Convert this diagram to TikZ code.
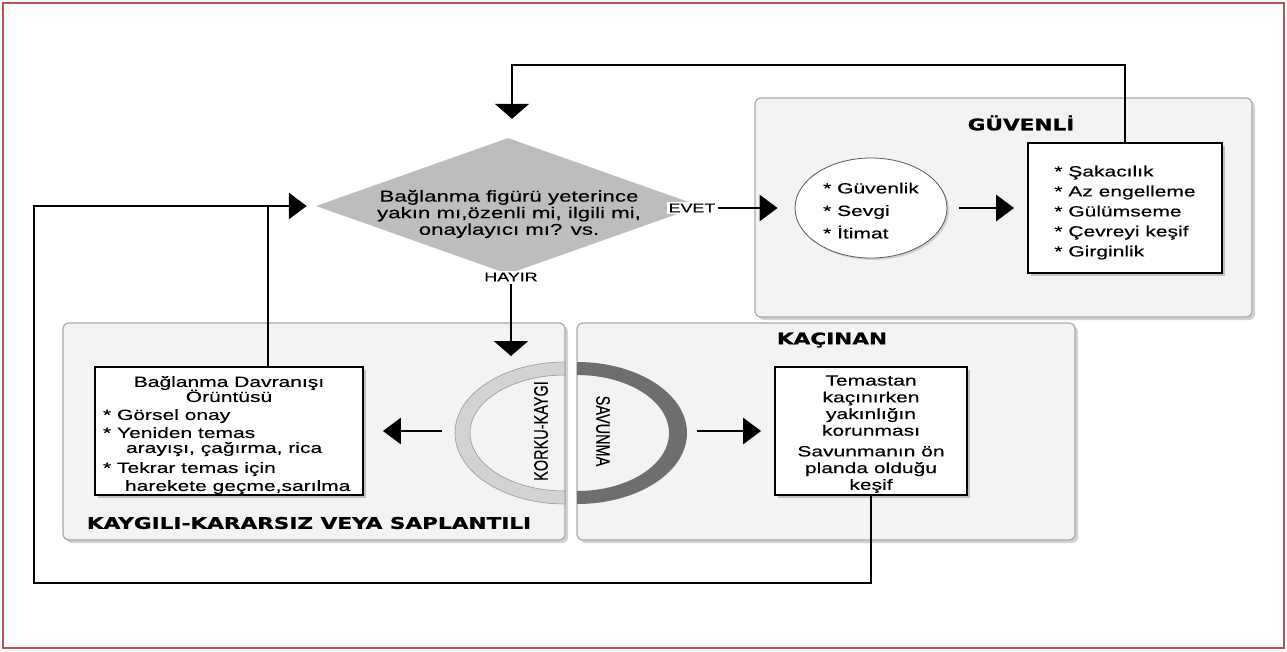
\documentclass[tikz,border=0pt]{standalone}
\usepackage{fontspec}
\setmainfont{Liberation Sans}
\newfontfamily\bodyf{Liberation Sans}[FakeStretch=1.42,FakeBold=0.35]
\newfontfamily\plainf{Liberation Sans}[FakeBold=0.3]
\newfontfamily\titf{DejaVu Sans}[FakeStretch=1.35,FakeBold=1]
\usetikzlibrary{arrows.meta,shapes.geometric,shadows}
\definecolor{framec}{HTML}{C0504D}
\definecolor{panelfill}{HTML}{F3F3F3}
\definecolor{paneldraw}{HTML}{A9A9A9}
\definecolor{diafill}{HTML}{BDBDBD}
\definecolor{korkuc}{HTML}{D3D3D3}
\definecolor{savunc}{HTML}{6E6E6E}
\lineskiplimit=-100pt
\lineskip=0pt
\begin{document}
\begin{tikzpicture}[x=1pt,y=-1pt,
  panel/.style={draw=paneldraw, line width=1.2pt, fill=panelfill, rounded corners=6pt,
    drop shadow={shadow xshift=3pt,shadow yshift=-3pt,opacity=0.35}},
  wbox/.style={draw=black, line width=1.8pt, fill=white, inner sep=6pt,
    drop shadow={shadow xshift=2.5pt,shadow yshift=-2.5pt,opacity=0.45}},
  conn/.style={line width=2.8pt, black},
  arr/.style={conn, -{Triangle[length=18pt,width=26pt]}},
  darr/.style={conn, -{Triangle[length=15pt,width=34pt]}},
  titlefont/.style={font=\titf\bfseries\fontsize{16}{18}\selectfont},
  lbl/.style={font=\bodyf\fontsize{12.6}{14}\selectfont, fill=white, inner sep=2pt},
  rotlbl/.style={font=\plainf\fontsize{14.5}{16}\selectfont, inner sep=1pt},
]
\fill[white] (0,0) rectangle (1287,651);
\useasboundingbox (0,0) rectangle (1287,651);
\draw[framec, line width=2.5pt] (3,3) rectangle (1284,648);

% panels
\node[panel, minimum width=497pt, minimum height=219pt] (pG) at (1003.5,207.5) {};
\node[panel, minimum width=502pt, minimum height=217pt] (pK) at (314,431.5) {};
\node[panel, minimum width=498pt, minimum height=217pt] (pA) at (826,431.5) {};

% arcs
\fill[korkuc, draw=gray!80, line width=0.6pt] (565,362)
  arc[start angle=90,end angle=270,x radius=110pt,y radius=71pt] -- (565,491)
  arc[start angle=270,end angle=90,x radius=95pt,y radius=58pt] -- cycle;
\fill[savunc] (577,362)
  arc[start angle=90,end angle=-90,x radius=110pt,y radius=71pt] -- (577,491)
  arc[start angle=-90,end angle=90,x radius=92pt,y radius=58pt] -- cycle;
\node[rotlbl, rotate=90] (korkuT) at (541,431) {\scalebox{1}[1.35]{KORKU-KAYGI}};
\node[rotlbl, rotate=-90] (savT) at (603,431) {\scalebox{1}[1.35]{SAVUNMA}};

% titles
\node[titlefont] (tG) at (1021,123) {GÜVENLİ};
\node[titlefont] (tA) at (832,340) {KAÇINAN};
\node[titlefont] (tK) at (309,523) {KAYGILI-KARARSIZ VEYA SAPLANTILI};

% diamond
\node[diamond, fill=diafill, minimum width=384pt, minimum height=136pt, inner sep=0pt] (dia) at (508,206) {};
\node[font=\bodyf\fontsize{15.7}{16.6}\selectfont, align=center] (dtext) at (509,214)
  {Bağlanma figürü yeterince\\yakın mı,özenli mi, ilgili mi,\\onaylayıcı mı? vs.};
\node[lbl] (evet) at (692,208) {EVET};
\node[lbl] (hayir) at (511,277) {HAYIR};

% secure
\node[ellipse, draw=gray!70!black, line width=0.8pt, fill=white, minimum width=152pt, minimum height=100pt,
  inner sep=0pt, drop shadow={shadow xshift=2pt,shadow yshift=-2pt,opacity=0.3},
  font=\bodyf\fontsize{14.8}{22.5}\selectfont, align=left] (ell) at (871,208)
  {\rule{0pt}{16pt}* Güvenlik\\* Sevgi\\* İtimat};
\node[wbox, minimum width=194pt, minimum height=130pt, font=\bodyf\fontsize{14.8}{20}\selectfont, align=left]
  (gbox) at (1125,208) {\rule{0pt}{20pt}* Şakacılık\\* Az engelleme\\* Gülümseme\\* Çevreyi keşif\\* Girginlik};

% anxious box
\node[wbox, minimum width=268pt, minimum height=128pt, inner sep=0pt, align=left,
  font=\bodyf\fontsize{14.8}{15}\selectfont] (lbox) at (229,431)
  {\rule{0pt}{19pt}\makebox[252pt][c]{Bağlanma Davranışı}\\
   \makebox[252pt][c]{Örüntüsü}\\[3pt]
   * Görsel onay\\[3pt]
   * Yeniden temas\\
   \hspace*{23pt}arayışı, çağırma, rica\\[5pt]
   * Tekrar temas için\\[3pt]
   \hspace*{22pt}harekete geçme,sarılma};

% avoidant box
\node[wbox, minimum width=192pt, minimum height=128pt, inner sep=0pt, align=center,
  font=\bodyf\fontsize{14.8}{16.7}\selectfont] (kbox) at (871,431)
  {\rule{0pt}{16.5pt}Temastan\\kaçınırken\\yakınlığın\\korunması\\[4pt]Savunmanın ön\\planda olduğu\\keşif};

% coordinates
\coordinate (korkuL) at (455,431);
\coordinate (savR) at (687,431);
\coordinate (arcTop) at (511,356);
\coordinate (topL) at (512,65);
\coordinate (botL) at (34,583);
\coordinate (jx) at (268,0);

% connectors
\draw[arr, shorten >=17pt] (evet.east) -- (ell.west);
\draw[arr, shorten <=12pt, shorten >=13pt] (ell.east) -- (gbox.west);
\draw[darr, shorten >=19pt] (gbox.north) |- (topL) -- (topL |- dia.north);
\draw[darr] (hayir.south) -- (arcTop);
\draw[arr, shorten <=13pt, shorten >=19pt] (korkuL) -- (lbox.east);
\draw[arr, shorten <=10pt, shorten >=13pt] (savR) -- (kbox.west);
\draw[conn] (lbox.north -| jx) -- (jx |- dia.west);
\draw[arr, shorten >=9pt] (kbox.south) |- (botL) |- (dia.west);
\end{tikzpicture}
\end{document}
